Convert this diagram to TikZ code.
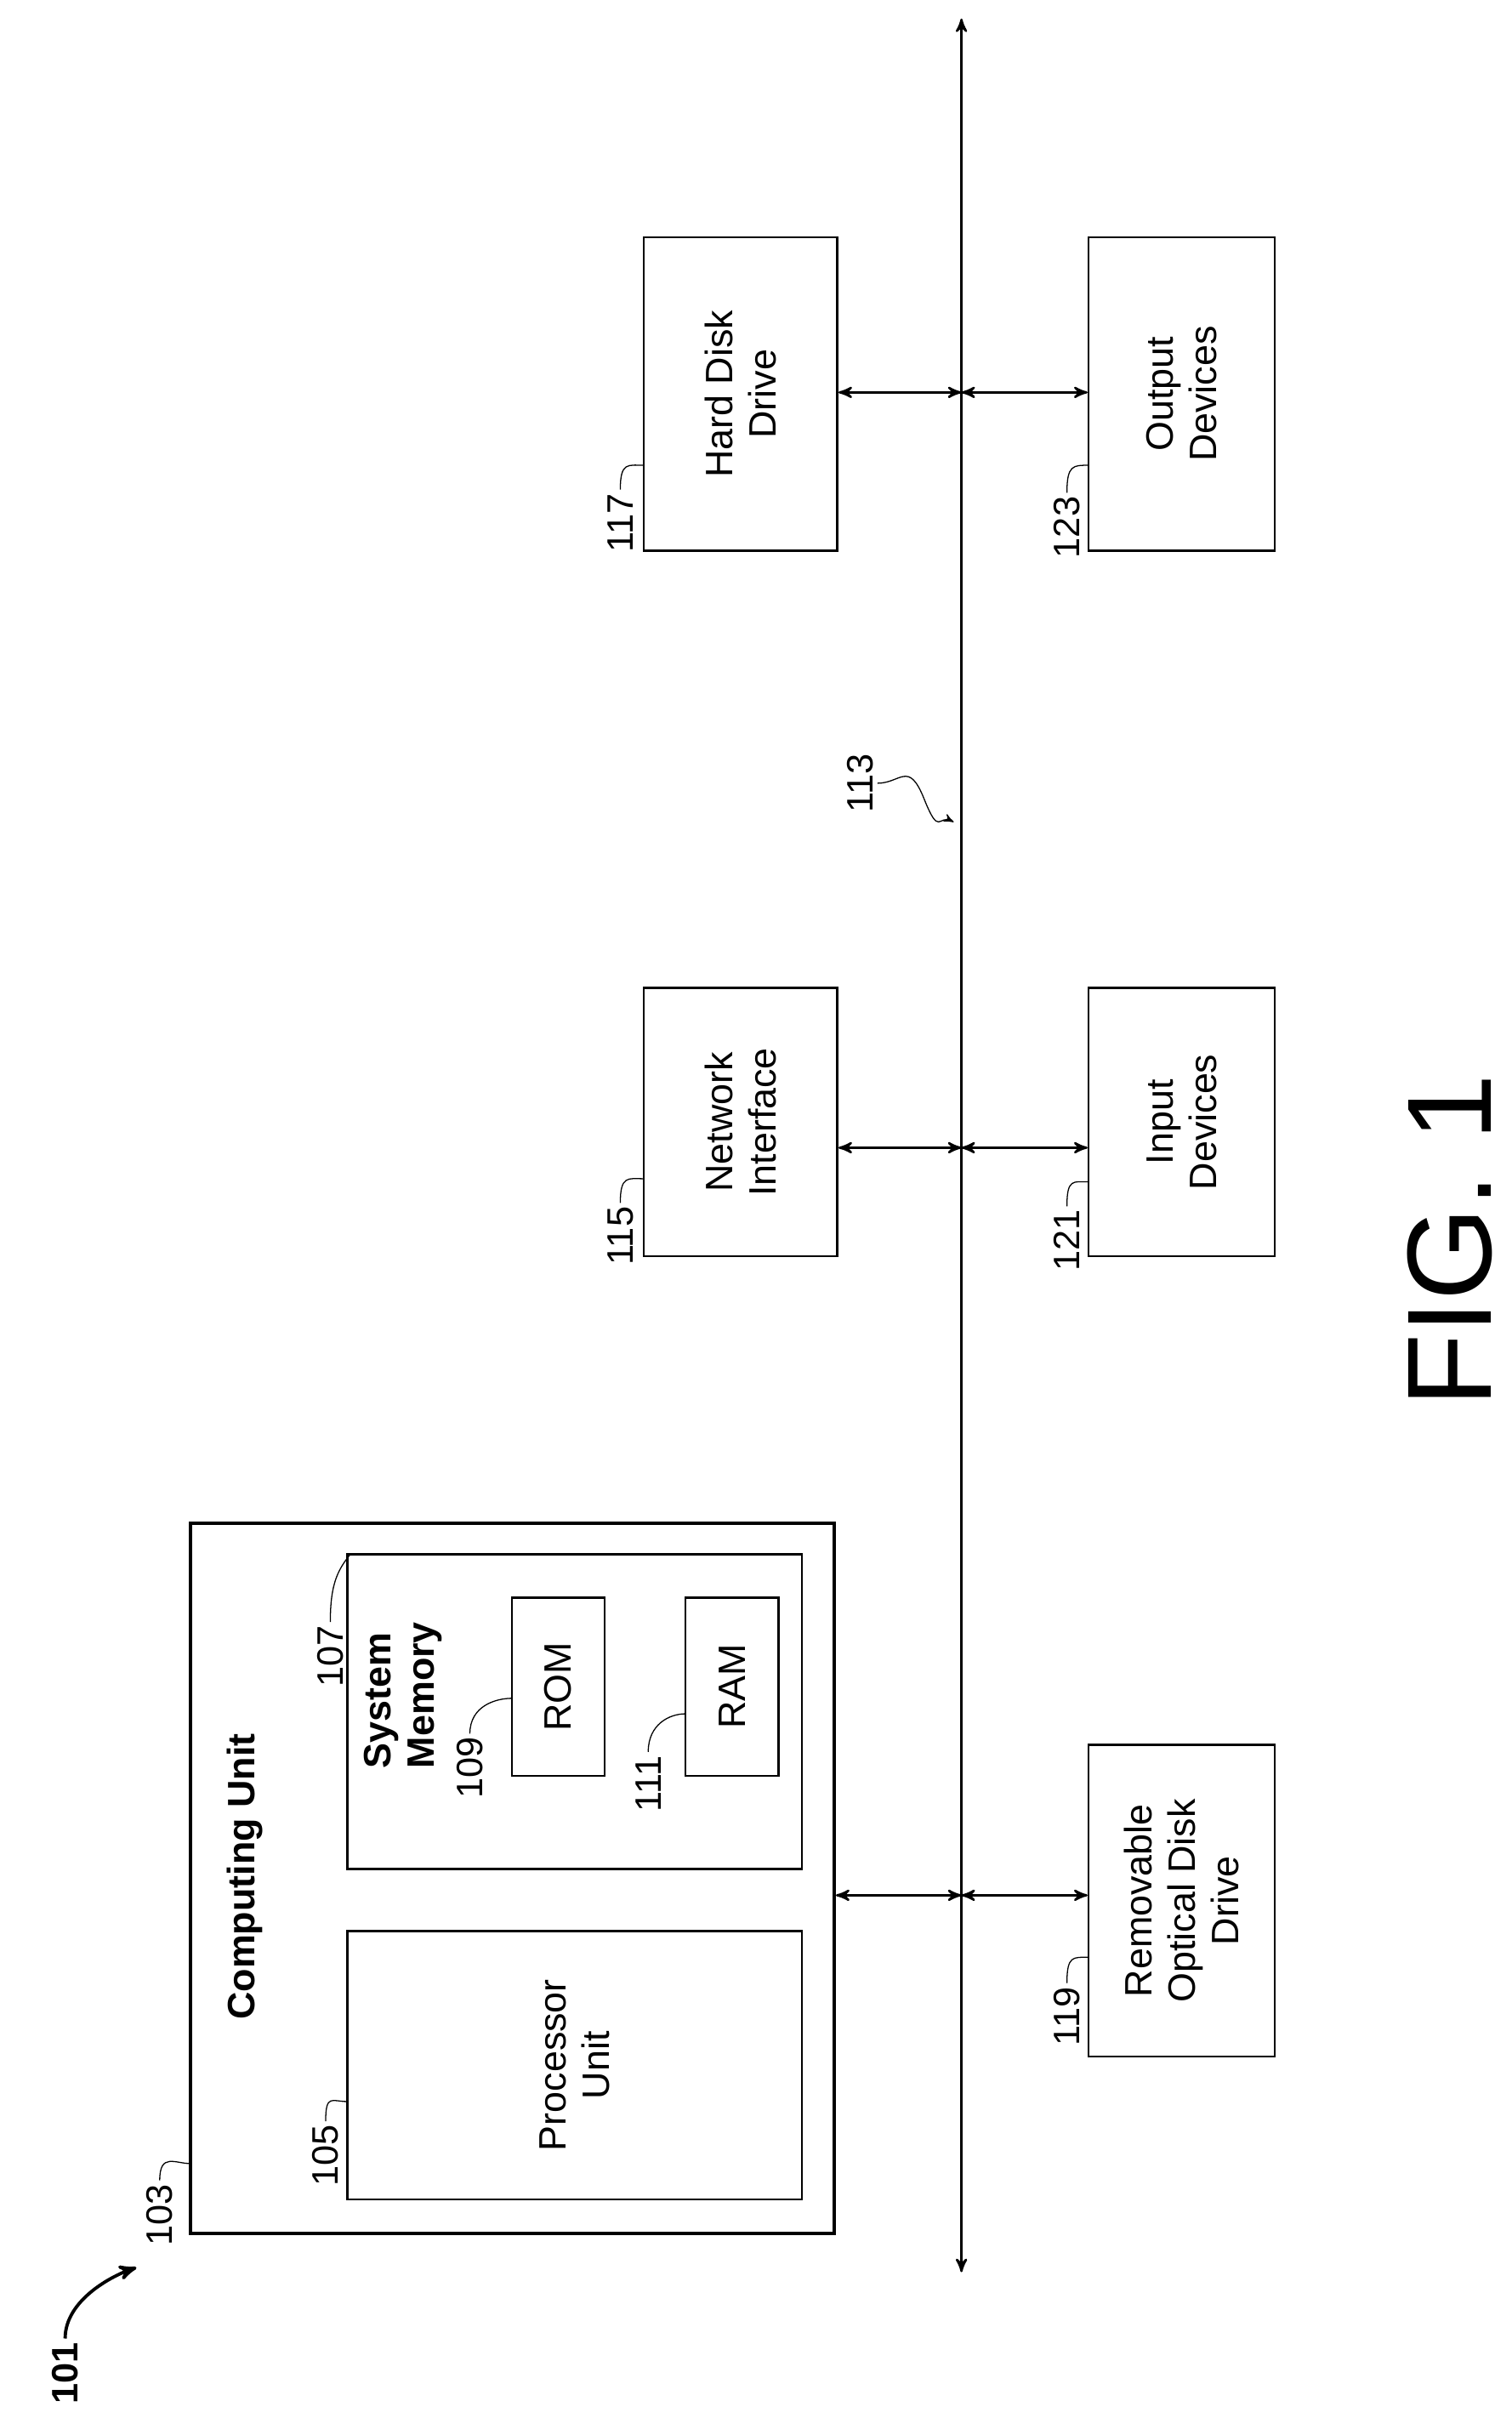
\documentclass[tikz,border=0pt]{standalone}
\usepackage{fontspec}
\setmainfont{Liberation Sans}
\usetikzlibrary{arrows,positioning}
\begin{document}
\begin{tikzpicture}[x=0.2mm,y=-0.2mm,>=stealth',thick,
		box/.style={draw,rotate=90,inner sep=0pt,align=center,font=\fontsize{14}{16}\selectfont},
		num/.style={rotate=90,inner sep=1pt,font=\fontsize{13.5}{16}\selectfont},
		lead/.style={-,thin}]
		\useasboundingbox (0,0) rectangle (975,1570);
		
		% bus
		\coordinate (bustop) at (620,12);
		\coordinate (busbot) at (620,1465);
		\draw[<->] (bustop) -- (busbot);
		\coordinate (b1) at (620,740);
		\coordinate (b2) at (620,253);
		\coordinate (b3) at (620,1222);
		
		% computing unit
		\node[box,line width=1.2pt,minimum width=91.6mm,minimum height=83mm] (comp) at (330.5,1211) {};
		\node[rotate=90,font=\bfseries\fontsize{14}{16}\selectfont] (comptitle) at (158,1210) {Computing Unit};
		\node[box,minimum width=34.6mm,minimum height=58.6mm] (proc) at (370.5,1331.5) {Processor\\Unit};
		\node[box,minimum width=40.6mm,minimum height=58.6mm] (mem) at (370.5,1103.5) {};
		\node[rotate=90,align=left,font=\bfseries\fontsize{14}{16}\selectfont] (memtitle) at (260,1093) {System\\Memory};
		\node[box,minimum width=23mm,minimum height=12mm] (rom) at (360,1087.5) {ROM};
		\node[box,minimum width=23mm,minimum height=12mm] (ram) at (472,1087.5) {RAM};
		
		% peripherals
		\node[box,minimum width=34.6mm,minimum height=25mm] (net) at (477.5,723.5) {Network\\Interface};
		\node[box,minimum width=40.4mm,minimum height=25mm] (hdd) at (477.5,254) {Hard Disk\\Drive};
		\node[box,minimum width=34.6mm,minimum height=24mm] (inp) at (762,723.5) {Input\\Devices};
		\node[box,minimum width=40.4mm,minimum height=24mm] (out) at (762,254) {Output\\Devices};
		\node[box,minimum width=40.2mm,minimum height=24mm] (rem) at (762,1225.5) {Removable\\Optical Disk\\Drive};
		
		% links to the bus
		\draw[<->] (comp.south |- b3) -- (b3);
		\draw[<->] (b3) -- (rem.north |- b3);
		\draw[<->] (net.south |- b1) -- (b1);
		\draw[<->] (b1) -- (inp.north |- b1);
		\draw[<->] (hdd.south |- b2) -- (b2);
		\draw[<->] (b2) -- (out.north |- b2);
		
		% reference numerals
		\node[num] (l103) at (103,1428) {103};
		\node[num] (l105) at (210,1390) {105};
		\node[num] (l107) at (213,1068) {107};
		\node[num] (l109) at (303,1140) {109};
		\node[num] (l111) at (418,1150) {111};
		\node[num] (l115) at (400,797) {115};
		\node[num] (l117) at (400,337) {117};
		\node[num] (l121) at (688,800) {121};
		\node[num] (l123) at (688,340) {123};
		\node[num] (l119) at (688,1300) {119};
		\node[num] (l113) at (555,505) {113};
		\node[num,font=\bfseries\fontsize{13.5}{16}\selectfont] (l101) at (42,1530) {101};
		
		\coordinate (t103) at (123,1395);
		\coordinate (t105) at (224,1355);
		\coordinate (t107) at (226,1002);
		\coordinate (t109) at (330,1095);
		\coordinate (t111) at (442,1105);
		\coordinate (t115) at (415,760);
		\coordinate (t117) at (415,300);
		\coordinate (t121) at (702,762);
		\coordinate (t123) at (702,300);
		\coordinate (t119) at (702,1262);
		\draw[lead] (l103.east) .. controls +(0,-18) and +(-10,0) .. (t103);
		\draw[lead] (l105.east) .. controls +(0,-18) and +(-10,0) .. (t105);
		\draw[lead] (l107.east) .. controls +(0,-25) and +(-8,10) .. (t107);
		\draw[lead] (l109.east) .. controls +(0,-18) and +(-10,0) .. (t109);
		\draw[lead] (l111.east) .. controls +(0,-18) and +(-10,0) .. (t111);
		\draw[lead] (l115.east) .. controls +(0,-18) and +(-10,0) .. (t115);
		\draw[lead] (l117.east) .. controls +(0,-18) and +(-10,0) .. (t117);
		\draw[lead] (l121.east) .. controls +(0,-18) and +(-10,0) .. (t121);
		\draw[lead] (l123.east) .. controls +(0,-18) and +(-10,0) .. (t123);
		\draw[lead] (l119.east) .. controls +(0,-18) and +(-10,0) .. (t119);
		\coordinate (t113) at (615,530);
		\draw[->,thin] (l113.south) .. controls +(15,0) and +(-10,-25) .. ++(30,10) .. controls +(10,25) and +(-10,-5) .. (t113);
		\coordinate (t101) at (88,1462);
		\draw[->,line width=1.2pt] (l101.east) .. controls +(0,-25) and +(-15,5) .. (t101);
		
		\node[rotate=90,font=\fontsize{44}{50}\selectfont] (fig) at (935,800) {FIG. 1};
		
\end{tikzpicture}
\end{document}
